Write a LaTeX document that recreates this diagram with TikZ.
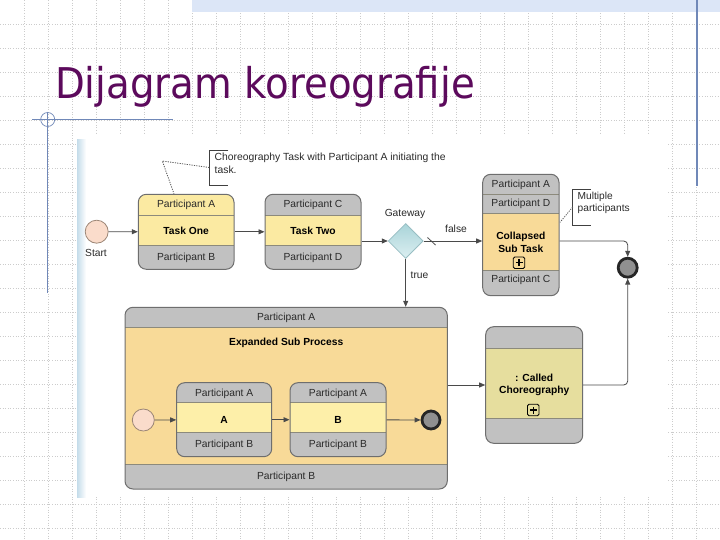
\documentclass[tikz,border=0pt]{standalone}
\usepackage{fontspec}
\setmainfont{Liberation Sans}
\newfontfamily\titlefont{DejaVu Sans}
\usetikzlibrary{shapes.geometric,arrows.meta,fit}

\definecolor{gridc}{HTML}{CCCCCC}
\definecolor{bandblue}{HTML}{DCE6F7}
\definecolor{slate}{HTML}{7088B8}
\definecolor{titlec}{HTML}{5C0A5C}
\definecolor{grayband}{HTML}{C1C1C1}
\definecolor{boxc}{HTML}{6E6E6E}
\definecolor{divc}{HTML}{8C8A7C}
\definecolor{taskyel}{HTML}{FBEAA2}
\definecolor{inyel}{HTML}{FDEFA9}
\definecolor{subor}{HTML}{F8DA98}
\definecolor{callyel}{HTML}{E6DE9E}
\definecolor{flowc}{HTML}{4A4A4A}
\definecolor{startf}{HTML}{FADCCB}
\definecolor{starts}{HTML}{9C8676}
\definecolor{endf}{HTML}{909090}
\definecolor{gwtop}{HTML}{A9D4D9}
\definecolor{gwbot}{HTML}{DCEFF1}
\definecolor{gws}{HTML}{98BEC3}
\definecolor{stripc}{HTML}{C4DCEA}
\definecolor{txtc}{HTML}{2A2A2A}

\newcommand\bands[9]{%
  \begin{scope}
    \clip[rounded corners=8bp] (#1,#2) rectangle (#3,#4);
    \fill[#7] (#1,#2) rectangle (#3,#5);
    \fill[#8] (#1,#5) rectangle (#3,#6);
    \fill[#9] (#1,#6) rectangle (#3,#4);
    \draw[divline] (#1,#5) -- (#3,#5) (#1,#6) -- (#3,#6);
  \end{scope}}

\tikzset{
  gridline/.style={gridc, line width=0.5bp, dash pattern=on 1bp off 1.6bp},
  slateline/.style={slate, line width=1.1bp},
  divline/.style={divc, line width=0.8bp},
  cbox/.style={draw=boxc, line width=1bp, rounded corners=8bp, inner sep=0pt},
  lbl/.style={font=\fontsize{10.3}{12}\selectfont, text=txtc, inner sep=0pt},
  blbl/.style={font=\fontsize{10.3}{13}\selectfont\bfseries, text=black, inner sep=0pt, align=center},
  note/.style={font=\fontsize{10.4}{13}\selectfont, text=txtc, inner sep=0pt, align=left},
  flow/.style={flowc, line width=0.8bp, -{Triangle[length=6bp,width=5bp]}},
  plainflow/.style={flowc, line width=0.8bp},
  startev/.style={circle, draw=starts, fill=startf, line width=0.8bp, minimum size=23bp, inner sep=0pt},
  endev/.style={circle, draw=black!85, fill=endf, line width=2.8bp, minimum size=19bp, inner sep=0pt},
  gateway/.style={diamond, draw=gws, top color=gwtop, bottom color=gwbot, line width=0.8bp, minimum width=35bp, minimum height=35bp, inner sep=0pt},
  plusbox/.style={draw=black, line width=0.8bp, rounded corners=1.5bp, minimum size=11.5bp, inner sep=0pt,
    path picture={\draw[black, line width=1.4bp] ([xshift=-3.5bp]path picture bounding box.center) -- ([xshift=3.5bp]path picture bounding box.center) ([yshift=-3.5bp]path picture bounding box.center) -- ([yshift=3.5bp]path picture bounding box.center);}},
  bracket/.style={draw=black!75, line width=0.8bp},
  assoc/.style={draw=black!65, line width=0.8bp, dash pattern=on 1.2bp off 1.2bp},
}

\begin{document}
\begin{tikzpicture}[x=1bp,y=-1bp]
\useasboundingbox (0,0) rectangle (720,540);
\fill[white] (0,0) rectangle (720,540);

% slide grid
\foreach \gx in {24,48,...,696} \draw[gridline] (\gx,0) -- (\gx,540);
\foreach \gy in {24,48,...,528} \draw[gridline] (0,\gy) -- (720,\gy);

% top band and slide lines
\fill[bandblue] (192,0) rectangle (720,12.5);
\draw[slateline] (697,0) -- (697,186);
\draw[slateline] (32,119.5) -- (173,119.5);
\draw[slateline] (47.7,112) -- (47.7,293);
\draw[slate, line width=0.7bp] (47.7,119.5) circle (7bp);

% title
\node[anchor=base west, inner sep=0pt, text=titlec, font=\titlefont\fontsize{42.5}{50}\selectfont] (title) at (55,99) {\scalebox{0.914}[1]{Dijagram koreografije}};

% picture panel
\fill[white] (77,134) rectangle (668,497);
\shade[left color=stripc, right color=white] (77,140) rectangle (86,497);

% ---- top row ----
\node[startev] (start) at (96.7,231.7) {};
\node[lbl] (startlbl) at (96,252.5) {Start};

\bands{138.3}{194.3}{234}{269.3}{215}{245}{taskyel}{taskyel}{grayband}
\node[cbox, fit={(138.3,194.3)(234,269.3)}] (t1) {};
\node[lbl] (t1a) at (186.2,205) {Participant A};
\node[blbl] (t1m) at (186.2,230.5) {Task One};
\node[lbl] (t1b) at (186.2,257.5) {Participant B};

\bands{265}{194.3}{361}{269.3}{215}{245}{grayband}{taskyel}{grayband}
\node[cbox, fit={(265,194.3)(361,269.3)}] (t2) {};
\node[lbl] (t2a) at (313,205) {Participant C};
\node[blbl] (t2m) at (313,230.5) {Task Two};
\node[lbl] (t2b) at (313,257.5) {Participant D};

% annotation
\draw[bracket] (228.3,150) -- (209.3,150) -- (209.3,185) -- (228.3,185);
\node[note, anchor=north west] (note1) at (214.5,152.5) {Choreography Task with Participant A initiating the\\task.};
\coordinate (n1a) at (209.3,167.5);
\coordinate (n1b) at (162.3,161);
\draw[assoc] (n1a) -- (n1b) -- (t1.north -| 174,0);

% gateway
\node[gateway] (gw) at (405.7,241) {};
\node[lbl] (gwlbl) at (405,213.5) {Gateway};
\node[lbl] (falselbl) at (456,229.3) {false};
\node[lbl] (truelbl) at (419.5,275) {true};

% collapsed sub task
\begin{scope}
  \clip[rounded corners=8bp] (482.7,174.3) rectangle (559,295.7);
  \fill[grayband] (482.7,174.3) rectangle (559,213.3);
  \fill[subor] (482.7,213.3) rectangle (559,270);
  \fill[grayband] (482.7,270) rectangle (559,295.7);
  \draw[divline] (482.7,194.3) -- (559,194.3) (482.7,213.3) -- (559,213.3) (482.7,270) -- (559,270);
\end{scope}
\node[cbox, fit={(482.7,174.3)(559,295.7)}] (cst) {};
\node[lbl] (csta) at (520.8,185) {Participant A};
\node[lbl] (cstd) at (520.8,204) {Participant D};
\node[blbl] (cstm) at (520.8,242.5) {Collapsed\\Sub Task};
\node[plusbox] (cstp) at (519,262.7) {};
\node[lbl] (cstc) at (520.8,280) {Participant C};

\draw[bracket] (590.7,189.3) -- (572.7,189.3) -- (572.7,225.7) -- (590.7,225.7);
\node[note, font=\fontsize{10.2}{12.5}\selectfont, anchor=north west] (note2) at (577.5,191.5) {Multiple\\participants};
\coordinate (n2a) at (572.7,207);
\coordinate (n2b) at (560,222.3);
\draw[assoc] (n2a) -- (n2b);

% end event
\node[endev] (endev) at (627.7,267.7) {};

% ---- expanded sub process ----
\bands{125}{307.3}{447.3}{489}{327.3}{464.3}{grayband}{subor}{grayband}
\node[cbox, fit={(125,307.3)(447.3,489)}] (exp) {};
\node[lbl] (expa) at (286.2,318) {Participant A};
\node[blbl] (expm) at (286.2,343.3) {Expanded Sub Process};
\node[lbl] (expb) at (286.2,476.5) {Participant B};

\node[startev, minimum size=22bp] (s2) at (143.3,420) {};

\bands{176.7}{382.7}{271.7}{456.7}{402.7}{432.7}{grayband}{inyel}{grayband}
\node[cbox, fit={(176.7,382.7)(271.7,456.7)}] (ta) {};
\node[lbl] (taa) at (224.2,393.5) {Participant A};
\node[blbl] (tam) at (224.2,420) {A};
\node[lbl] (tab) at (224.2,445) {Participant B};

\bands{290}{382.7}{386}{456.7}{402.7}{432.7}{grayband}{inyel}{grayband}
\node[cbox, fit={(290,382.7)(386,456.7)}] (tb) {};
\node[lbl] (tba) at (338,393.5) {Participant A};
\node[blbl] (tbm) at (338,420) {B};
\node[lbl] (tbb) at (338,445) {Participant B};

\node[endev, minimum size=18bp] (e2) at (431,420) {};

% ---- called choreography ----
\bands{485.7}{326.7}{582.7}{443.3}{348.3}{418.3}{grayband}{callyel}{grayband}
\node[cbox, fit={(485.7,326.7)(582.7,443.3)}] (call) {};
\node[blbl, font=\fontsize{10.3}{12}\selectfont\bfseries] (callm) at (534.2,385) {: Called\\Choreography};
\node[plusbox] (callp) at (533.3,410) {};

% ---- connectors ----
\draw[flow] (start) -- (t1);
\draw[flow] (t1) -- (t2);
\draw[flow] (t2.east |- gw.west) -- (gw.west);
\draw[flow] (gw.east) -- (cst.west |- gw.east);
\coordinate (df1) at (427.5,237.5);
\coordinate (df2) at (435.5,245);
\draw[plainflow] (df1) -- (df2);
\draw[flow, rounded corners=4bp] (cst.east |- gw.east) -| (endev.north);
\draw[flow] (gw.south) -- (gw.south |- exp.north);
\draw[flow] (exp.east |- call.west) -- (call.west);
\draw[flow, rounded corners=4bp] (call.east) -| (endev.south);
\draw[flow] (s2) -- (ta);
\draw[flow] (ta) -- (tb);
\draw[flow] (tb) -- (e2);
\end{tikzpicture}
\end{document}
